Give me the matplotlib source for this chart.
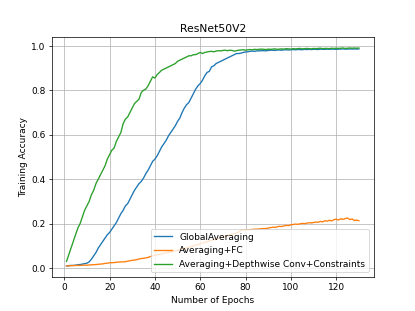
import matplotlib
matplotlib.use("Agg")
import matplotlib.pyplot as plt

epochs = list(range(1, 131))

global_avg = [
    0.010, 0.011, 0.012, 0.012, 0.013, 0.015, 0.016, 0.018, 0.020, 0.022,
    0.028, 0.040, 0.055, 0.070, 0.090, 0.105, 0.120, 0.135, 0.150, 0.160,
    0.175, 0.190, 0.205, 0.225, 0.245, 0.260, 0.280, 0.290, 0.310, 0.330,
    0.350, 0.365, 0.380, 0.390, 0.405, 0.425, 0.440, 0.460, 0.480, 0.490,
    0.505, 0.525, 0.545, 0.560, 0.575, 0.595, 0.610, 0.625, 0.640, 0.660,
    0.675, 0.700, 0.720, 0.735, 0.745, 0.765, 0.785, 0.805, 0.820, 0.830,
    0.845, 0.865, 0.880, 0.885, 0.905, 0.910, 0.920, 0.925, 0.930, 0.935,
    0.940, 0.945, 0.950, 0.955, 0.960, 0.965, 0.965, 0.967, 0.970, 0.972,
    0.973, 0.975, 0.976, 0.975, 0.977, 0.977, 0.978, 0.978, 0.977, 0.979,
    0.980, 0.980, 0.979, 0.981, 0.981, 0.980, 0.982, 0.982, 0.981, 0.982,
    0.983, 0.982, 0.983, 0.983, 0.982, 0.984, 0.983, 0.984, 0.983, 0.984,
    0.984, 0.983, 0.985, 0.984, 0.984, 0.985, 0.984, 0.985, 0.985, 0.984,
    0.985, 0.985, 0.986, 0.985, 0.985, 0.986, 0.985, 0.986, 0.985, 0.986,
]

avg_fc = [
    0.010, 0.010, 0.011, 0.011, 0.012, 0.012, 0.012, 0.013, 0.013, 0.013,
    0.014, 0.015, 0.015, 0.016, 0.017, 0.018, 0.019, 0.021, 0.022, 0.024,
    0.024, 0.025, 0.026, 0.027, 0.028, 0.028, 0.029, 0.031, 0.033, 0.035,
    0.036, 0.038, 0.041, 0.043, 0.044, 0.046, 0.048, 0.052, 0.055, 0.058,
    0.060, 0.062, 0.064, 0.066, 0.069, 0.071, 0.073, 0.075, 0.078, 0.080,
    0.083, 0.086, 0.088, 0.091, 0.094, 0.097, 0.100, 0.103, 0.106, 0.110,
    0.113, 0.116, 0.119, 0.122, 0.125, 0.128, 0.131, 0.134, 0.137, 0.140,
    0.143, 0.146, 0.149, 0.152, 0.155, 0.158, 0.162, 0.170, 0.171, 0.172,
    0.172, 0.173, 0.174, 0.175, 0.175, 0.176, 0.177, 0.178, 0.178, 0.180,
    0.182, 0.184, 0.183, 0.186, 0.188, 0.187, 0.190, 0.192, 0.191, 0.195,
    0.196, 0.198, 0.197, 0.199, 0.201, 0.200, 0.202, 0.204, 0.203, 0.205,
    0.207, 0.206, 0.210, 0.208, 0.213, 0.211, 0.215, 0.212, 0.218, 0.220,
    0.216, 0.222, 0.219, 0.223, 0.225, 0.218, 0.221, 0.214, 0.216, 0.213,
]

depthwise = [
    0.030, 0.060, 0.090, 0.120, 0.150, 0.180, 0.200, 0.230, 0.260, 0.280,
    0.300, 0.330, 0.350, 0.380, 0.400, 0.420, 0.440, 0.460, 0.490, 0.510,
    0.530, 0.540, 0.570, 0.590, 0.610, 0.650, 0.670, 0.680, 0.700, 0.720,
    0.740, 0.750, 0.760, 0.790, 0.800, 0.805, 0.820, 0.840, 0.860, 0.855,
    0.870, 0.880, 0.890, 0.895, 0.900, 0.905, 0.910, 0.915, 0.920, 0.930,
    0.935, 0.940, 0.945, 0.950, 0.955, 0.955, 0.960, 0.960, 0.965, 0.970,
    0.965, 0.970, 0.972, 0.974, 0.975, 0.973, 0.976, 0.978, 0.977, 0.979,
    0.980, 0.978, 0.980, 0.979, 0.976, 0.978, 0.980, 0.981, 0.982, 0.980,
    0.982, 0.983, 0.982, 0.984, 0.983, 0.984, 0.985, 0.984, 0.983, 0.985,
    0.984, 0.985, 0.986, 0.984, 0.985, 0.986, 0.985, 0.987, 0.986, 0.985,
    0.987, 0.986, 0.987, 0.988, 0.986, 0.987, 0.988, 0.987, 0.986, 0.988,
    0.987, 0.988, 0.989, 0.987, 0.988, 0.988, 0.987, 0.989, 0.988, 0.989,
    0.988, 0.989, 0.990, 0.988, 0.989, 0.990, 0.989, 0.990, 0.989, 0.990,
]

fig = plt.figure(figsize=(6.4, 4.8), dpi=415 / 6.4)
ax = fig.add_subplot(111)

ax.plot(epochs, global_avg, label="GlobalAveraging")
ax.plot(epochs, avg_fc, label="Averaging+FC")
ax.plot(epochs, depthwise, label="Averaging+Depthwise Conv+Constraints")

ax.set_title("ResNet50V2")
ax.set_xlabel("Number of Epochs")
ax.set_ylabel("Training Accuracy")
ax.grid(True)
ax.legend(loc="lower right")

fig.savefig("out.png", dpi=415 / 6.4)
